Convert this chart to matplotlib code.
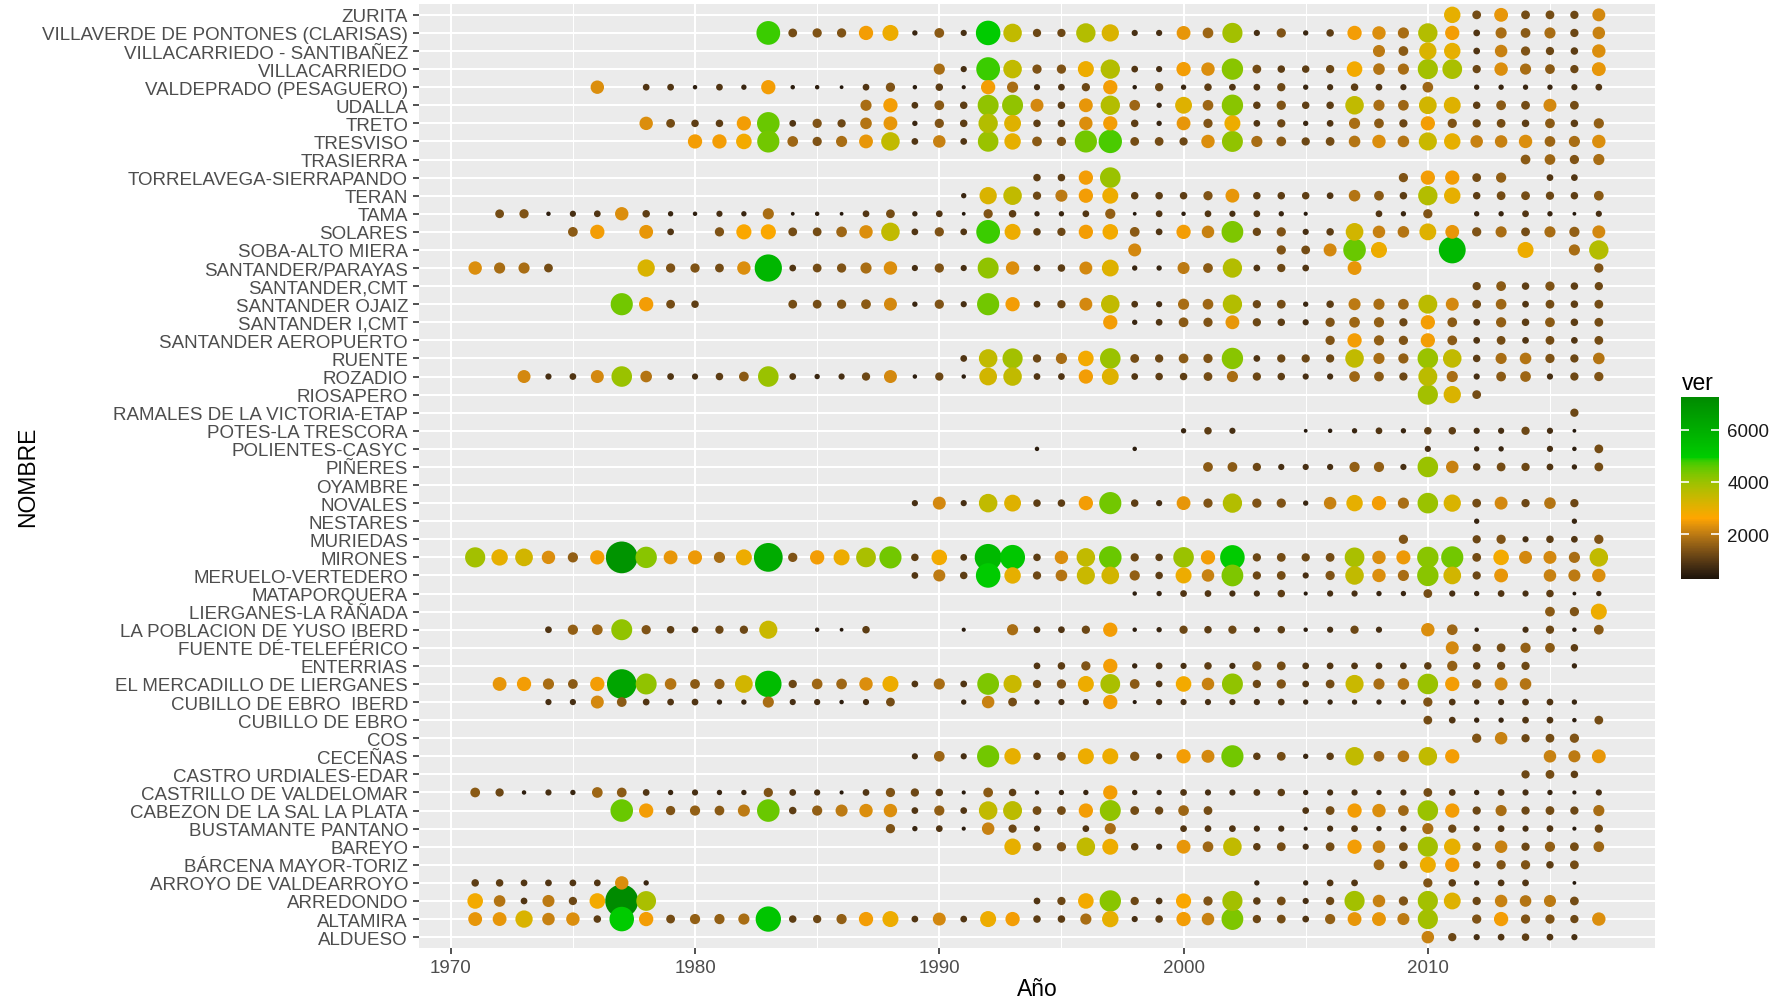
import numpy as np
import matplotlib
matplotlib.use("Agg")
import matplotlib.pyplot as plt
from matplotlib.colors import ListedColormap, Normalize
from matplotlib.cm import ScalarMappable

plt.rcParams['font.family'] = ['Liberation Sans', 'DejaVu Sans']

# estaciones, de arriba a abajo
stations = [
    "ZURITA", "VILLAVERDE DE PONTONES (CLARISAS)", "VILLACARRIEDO - SANTIBAÑEZ",
    "VILLACARRIEDO", "VALDEPRADO (PESAGUERO)", "UDALLA", "TRETO", "TRESVISO",
    "TRASIERRA", "TORRELAVEGA-SIERRAPANDO", "TERAN", "TAMA", "SOLARES",
    "SOBA-ALTO MIERA", "SANTANDER/PARAYAS", "SANTANDER,CMT", "SANTANDER OJAIZ",
    "SANTANDER I,CMT", "SANTANDER AEROPUERTO", "RUENTE", "ROZADIO", "RIOSAPERO",
    "RAMALES DE LA VICTORIA-ETAP", "POTES-LA TRESCORA", "POLIENTES-CASYC",
    "PIÑERES", "OYAMBRE", "NOVALES", "NESTARES", "MURIEDAS", "MIRONES",
    "MERUELO-VERTEDERO", "MATAPORQUERA", "LIERGANES-LA RAÑADA",
    "LA POBLACION DE YUSO IBERD", "FUENTE DÉ-TELEFÉRICO", "ENTERRIAS",
    "EL MERCADILLO DE LIERGANES", "CUBILLO DE EBRO  IBERD", "CUBILLO DE EBRO",
    "COS", "CECEÑAS", "CASTRO URDIALES-EDAR", "CASTRILLO DE VALDELOMAR",
    "CABEZON DE LA SAL LA PLATA", "BUSTAMANTE PANTANO", "BAREYO",
    "BÁRCENA MAYOR-TORIZ", "ARROYO DE VALDEARROYO", "ARREDONDO", "ALTAMIRA",
    "ALDUESO",
]

# (primer año, valores año a año; 0 = sin dato)
ver = {
    "ZURITA": (2011, [3000, 1300, 2400, 1300, 1300, 1200, 2200]),
    "VILLAVERDE DE PONTONES (CLARISAS)": (1983, [4800, 1300, 1400, 1400, 2500, 2900, 650, 1500, 800, 5000, 3500, 1200, 1200, 3700, 3200, 800, 800, 2400, 1700, 3900, 800, 1400, 650, 1050, 2500, 2300, 1800, 3700, 2500, 900, 1800, 1500, 1800, 1200, 2100]),
    "VILLACARRIEDO - SANTIBAÑEZ": (2008, [2000, 1500, 3200, 3000, 900, 2100, 1400, 1200, 1050, 2300]),
    "VILLACARRIEDO": (1990, [1800, 800, 4800, 3500, 1400, 1400, 2900, 3700, 900, 800, 2500, 2300, 4200, 1300, 1050, 1050, 1200, 2800, 1900, 1800, 3900, 3800, 1200, 2300, 1800, 1500, 1200, 2400]),
    "VALDEPRADO (PESAGUERO)": (1976, [2300, 0, 900, 900, 500, 900, 650, 2500, 500, 500, 400, 900, 1400, 500, 1050, 450, 2500, 1800, 800, 900, 1200, 2500, 500, 1200, 650, 1050, 900, 900, 1200, 650, 800, 1050, 900, 800, 1700, 0, 650, 650, 650, 650, 800, 900]),
    "UDALLA": (1987, [1800, 2500, 900, 1500, 1050, 4100, 4100, 2200, 1050, 2400, 3700, 1700, 650, 3100, 1700, 4200, 1050, 1400, 1050, 1050, 3500, 1800, 1700, 3300, 3100, 1050, 1500, 1300, 2200, 1300]),
    "TRETO": (1978, [2300, 1300, 1050, 1050, 2500, 4500, 900, 1400, 1200, 1900, 2400, 650, 1400, 1050, 3700, 3100, 1050, 1050, 2300, 2500, 1050, 650, 2400, 1400, 2900, 900, 1200, 650, 900, 1800, 1500, 1200, 2500, 1400, 1200, 1300, 1050, 1500, 1050, 1600]),
    "TRESVISO": (1980, [2500, 2500, 2800, 4400, 1700, 1400, 1800, 2400, 3500, 900, 2100, 900, 4000, 3000, 1500, 1400, 4400, 4700, 1300, 1300, 1200, 2300, 4100, 1800, 1500, 1200, 1300, 1900, 2300, 1900, 3400, 3000, 2100, 2100, 2300, 1700, 1800, 2300]),
    "TRASIERRA": (2014, [1500, 1700, 1400, 1800]),
    "TORRELAVEGA-SIERRAPANDO": (1994, [1050, 1050, 2500, 4000, 0, 0, 0, 0, 0, 0, 0, 0, 0, 0, 0, 1400, 2500, 2500, 1300, 1600, 0, 900, 900]),
    "TERAN": (1991, [650, 3200, 3500, 1200, 2000, 2500, 2900, 1050, 1050, 1050, 1400, 2400, 1050, 1050, 1050, 900, 1900, 1500, 1050, 3700, 3000, 1050, 1300, 1300, 1200, 1050, 1500]),
    "TAMA": (1972, [1300, 1400, 500, 800, 900, 2300, 1050, 650, 500, 800, 650, 1800, 400, 500, 400, 900, 1300, 650, 900, 400, 1400, 1050, 650, 650, 900, 1600, 400, 900, 500, 900, 800, 900, 650, 450, 0, 0, 900, 650, 1400, 0, 650, 650, 900, 650, 400, 800]),
    "SOLARES": (1975, [1500, 2500, 0, 2400, 900, 0, 1400, 2700, 2700, 1300, 1300, 1700, 2300, 3500, 900, 1400, 900, 4800, 2900, 1050, 1200, 2500, 2800, 1500, 900, 2500, 2100, 4300, 1200, 1400, 800, 1050, 3300, 2100, 1900, 3100, 2400, 1400, 1800, 1300, 1800, 1600, 2200]),
    "SOBA-ALTO MIERA": (1998, [2200, 0, 0, 0, 0, 0, 1400, 1300, 2200, 4500, 2900, 0, 0, 5600, 0, 0, 2900, 0, 1800, 3700]),
    "SANTANDER/PARAYAS": (1971, [2300, 1800, 1800, 1300, 0, 0, 0, 3200, 1400, 1400, 1300, 2300, 5700, 900, 1300, 1400, 1800, 2300, 800, 1400, 800, 4100, 2300, 900, 1050, 2200, 3100, 650, 650, 2000, 1500, 3700, 900, 1200, 900, 0, 2400, 0, 0, 0, 0, 0, 0, 0, 0, 0, 1400]),
    "SANTANDER,CMT": (2012, [1200, 1500, 1050, 1400, 1050, 1200]),
    "SANTANDER OJAIZ": (1977, [4400, 2500, 1300, 1050, 0, 0, 0, 1300, 1300, 1400, 1500, 2200, 650, 1400, 800, 4400, 2500, 900, 1200, 2200, 3500, 900, 800, 1800, 1700, 3700, 1200, 1300, 650, 1050, 2000, 1800, 1700, 3600, 2200, 1300, 1700, 900, 1300, 1050, 1300]),
    "SANTANDER I,CMT": (1997, [2500, 650, 900, 1500, 1400, 2400, 1200, 1050, 800, 1400, 1700, 1600, 1200, 2500, 1500, 900, 1600, 1050, 1500, 1050, 1300]),
    "SANTANDER AEROPUERTO": (2006, [1400, 2500, 1600, 1400, 2500, 1500, 900, 1300, 900, 1300, 900, 1300]),
    "RUENTE": (1991, [900, 3500, 3900, 1200, 1800, 2800, 4000, 1300, 1200, 1500, 1400, 4200, 900, 1200, 1200, 1200, 3500, 1800, 1600, 4000, 3500, 1050, 1800, 1900, 1400, 1200, 1900]),
    "ROZADIO": (1973, [2200, 800, 900, 2200, 4000, 1900, 900, 800, 1050, 1500, 4000, 900, 650, 800, 1200, 2200, 500, 1200, 500, 3300, 3500, 900, 900, 2500, 3100, 900, 1050, 1050, 1300, 1800, 1200, 1050, 800, 800, 1700, 1500, 1200, 3600, 1800, 800, 1500, 1700, 800, 1200, 1400]),
    "RIOSAPERO": (2010, [3900, 3200, 1300]),
    "RAMALES DE LA VICTORIA-ETAP": (2016, [1200]),
    "POTES-LA TRESCORA": (2000, [650, 1050, 800, 0, 0, 400, 500, 650, 900, 650, 1050, 1050, 800, 800, 1200, 800, 400]),
    "POLIENTES-CASYC": (1994, [500, 0, 0, 0, 500, 0, 0, 0, 0, 0, 0, 0, 0, 0, 0, 0, 800, 0, 650, 650, 0, 800, 500, 1300]),
    "PIÑERES": (2001, [1500, 1500, 1200, 800, 800, 800, 1600, 1600, 800, 4000, 2100, 1050, 1300, 1200, 900, 650, 1300]),
    "OYAMBRE": (2000, []),
    "NOVALES": (1989, [800, 2200, 800, 3500, 3100, 1050, 1050, 2500, 4400, 1050, 800, 2400, 1400, 3700, 1400, 1400, 650, 2100, 3000, 2500, 1800, 4000, 3200, 1300, 2200, 1200, 1900, 1200]),
    "NESTARES": (2012, [650, 0, 0, 0, 650]),
    "MURIEDAS": (2009, [1400, 0, 0, 1200, 1400, 800, 1050, 900, 1400]),
    "MIRONES": (1971, [3900, 3000, 3300, 2300, 1600, 2500, 6900, 4200, 2400, 2450, 1800, 2900, 6100, 1400, 2500, 2900, 3800, 4400, 1050, 2800, 900, 5600, 5100, 1050, 2300, 3500, 4500, 1200, 1050, 4000, 2500, 5000, 1200, 1300, 1200, 1300, 3800, 2300, 2450, 4200, 4400, 1300, 2800, 2200, 2200, 1800, 3500]),
    "MERUELO-VERTEDERO": (1989, [900, 2000, 1050, 5000, 3000, 1200, 1900, 3400, 3300, 1600, 1050, 2900, 2100, 4300, 1200, 1300, 800, 1400, 3500, 2300, 1800, 4200, 3300, 1200, 2400, 0, 2100, 2000, 2300]),
    "MATAPORQUERA": (1998, [500, 650, 900, 900, 800, 800, 1050, 450, 800, 800, 650, 650, 1300, 800, 650, 900, 800, 1050, 400, 650]),
    "LIERGANES-LA RAÑADA": (2015, [1500, 1400, 2900]),
    "LA POBLACION DE YUSO IBERD": (1974, [900, 1600, 1700, 4100, 1400, 1050, 900, 1200, 1200, 3400, 0, 500, 400, 1050, 0, 0, 0, 450, 0, 1800, 900, 900, 1200, 2500, 500, 650, 1200, 1050, 1200, 800, 1050, 500, 800, 1200, 800, 0, 2300, 1700, 500, 0, 800, 1200, 500, 1500]),
    "FUENTE DÉ-TELEFÉRICO": (2011, [2200, 1200, 1300, 1600, 1500, 1050]),
    "ENTERRIAS": (1994, [900, 1050, 1400, 2500, 650, 900, 800, 1050, 800, 1400, 1300, 900, 900, 900, 900, 900, 1050, 1600, 1050, 1200, 1200, 0, 650]),
    "EL MERCADILLO DE LIERGANES": (1972, [2400, 2500, 1800, 1500, 2500, 6300, 4100, 1900, 1500, 1600, 3300, 5500, 1200, 1700, 1700, 2300, 2900, 900, 1800, 900, 4300, 3400, 1200, 1400, 2900, 3800, 1500, 900, 2800, 2100, 4100, 1200, 1400, 900, 1300, 3400, 1800, 1900, 4000, 2500, 1400, 2200, 1900]),
    "CUBILLO DE EBRO  IBERD": (1974, [800, 800, 2200, 1500, 900, 900, 900, 650, 650, 1800, 800, 800, 500, 800, 1300, 0, 0, 650, 2100, 1300, 650, 800, 800, 2500, 450, 800, 800, 800, 800, 800, 900, 650, 650, 650, 650, 650, 1400, 900, 650, 800, 900, 900, 650]),
    "CUBILLO DE EBRO": (2010, [1300, 900, 650, 650, 900, 900, 500, 1300]),
    "COS": (2012, [1400, 2100, 1200, 1300, 1400]),
    "CECEÑAS": (1989, [800, 1700, 800, 4400, 3000, 1050, 1300, 2900, 2900, 1400, 800, 2500, 2200, 4400, 1050, 1300, 650, 1050, 3500, 1700, 1900, 3500, 2500, 0, 0, 0, 2100, 2000, 2400]),
    "CASTRO URDIALES-EDAR": (2014, [1200, 1300, 1050]),
    "CASTRILLO DE VALDELOMAR": (1971, [1500, 1200, 500, 800, 650, 1700, 1500, 900, 650, 800, 650, 650, 1400, 900, 800, 450, 900, 1400, 1200, 1050, 450, 1500, 1050, 500, 650, 650, 2500, 650, 650, 900, 800, 800, 900, 1050, 650, 800, 800, 650, 800, 1300, 900, 650, 900, 800, 650, 450, 800]),
    "CABEZON DE LA SAL LA PLATA": (1977, [4500, 2500, 1400, 1600, 1500, 2000, 4500, 1050, 1600, 2000, 2300, 2300, 900, 1600, 900, 3500, 3600, 1300, 1300, 2500, 4100, 1300, 1200, 1700, 1300, 0, 0, 0, 900, 1300, 2500, 2300, 1700, 4000, 2500, 1200, 1800, 1200, 1300, 1200, 1800]),
    "BUSTAMANTE PANTANO": (1988, [1400, 650, 900, 450, 2100, 1200, 800, 0, 900, 1800, 0, 0, 900, 900, 900, 800, 800, 450, 800, 900, 650, 800, 1800, 1200, 800, 900, 800, 900, 450, 1200]),
    "BAREYO": (1993, [3000, 1300, 1400, 3500, 2900, 1050, 800, 2400, 1700, 3500, 1050, 1300, 800, 1300, 2500, 2100, 1300, 3900, 3000, 1300, 2100, 1200, 1600, 1300, 1700]),
    "BÁRCENA MAYOR-TORIZ": (2008, [1700, 1200, 2900, 2500, 1050, 1400, 1400, 1050, 1300]),
    "ARROYO DE VALDEARROYO": (1971, [1050, 1050, 900, 900, 900, 900, 2300, 650, 0, 0, 0, 0, 0, 0, 0, 0, 0, 0, 0, 0, 0, 0, 0, 0, 0, 0, 0, 0, 0, 0, 0, 0, 650, 0, 650, 900, 900, 0, 0, 1400, 1050, 650, 900, 900, 0, 400]),
    "ARREDONDO": (1971, [2800, 1900, 900, 2000, 1200, 2800, 7240, 3800, 0, 0, 0, 0, 0, 0, 0, 0, 0, 0, 0, 0, 0, 0, 0, 900, 1200, 2800, 4200, 1200, 900, 2700, 1400, 3900, 1050, 1300, 800, 1200, 3900, 2100, 1400, 3900, 3100, 1200, 2100, 1900, 2000, 1300]),
    "ALTAMIRA": (1971, [2400, 2400, 3200, 2100, 2300, 1050, 5000, 2500, 1300, 1600, 1600, 1800, 5200, 1050, 1200, 1600, 2500, 2900, 900, 2200, 900, 2900, 2500, 1050, 1050, 1800, 3000, 800, 1050, 2500, 2100, 4300, 1200, 1300, 900, 1600, 2400, 2400, 2000, 3900, 0, 1400, 2500, 1400, 1400, 1200, 2300]),
    "ALDUESO": (2010, [2100, 1200, 800, 900, 1050, 900, 800]),
}

x_ticks = [1970, 1980, 1990, 2000, 2010]
bar_ticks = [2000, 4000, 6000]
vmin, vmax = 300, 7240


# degradado interpolado en Lab, como scale_colour_gradientn
M = np.array([[0.4124, 0.3576, 0.1805], [0.2126, 0.7152, 0.0722], [0.0193, 0.1192, 0.9505]])
WHITE = np.array([0.95047, 1.0, 1.08883])

def to_lab(rgb):
    rgb = np.asarray(rgb, float)
    lin = np.where(rgb <= 0.04045, rgb / 12.92, ((rgb + 0.055) / 1.055) ** 2.4)
    xyz = lin @ M.T / WHITE
    f = np.where(xyz > 0.008856, np.cbrt(xyz), 7.787 * xyz + 16 / 116)
    return np.stack([116 * f[..., 1] - 16, 500 * (f[..., 0] - f[..., 1]), 200 * (f[..., 1] - f[..., 2])], -1)

def from_lab(lab):
    fy = (lab[..., 0] + 16) / 116
    f = np.stack([fy + lab[..., 1] / 500, fy, fy - lab[..., 2] / 200], -1)
    xyz = np.where(f ** 3 > 0.008856, f ** 3, (f - 16 / 116) / 7.787) * WHITE
    lin = np.clip(xyz @ np.linalg.inv(M).T, 0, None)
    rgb = np.where(lin <= 0.0031308, 12.92 * lin, 1.055 * lin ** (1 / 2.4) - 0.055)
    return np.clip(rgb, 0, 1)

stops = ['#1e140a', '#ffa500', '#00cd00', '#008b00']
stop_lab = to_lab([matplotlib.colors.to_rgb(c) for c in stops])
pos = np.linspace(0, 1, len(stops))
t = np.linspace(0, 1, 256)
lab = np.stack([np.interp(t, pos, stop_lab[:, k]) for k in range(3)], -1)
cmap = ListedColormap(from_lab(lab))
norm = Normalize(vmin, vmax)

# puntos
n = len(stations)
xs, ys, vs = [], [], []
for i, name in enumerate(stations):
    y0, vals = ver[name]
    for k, v in enumerate(vals):
        if v > 0:
            xs.append(y0 + k)
            ys.append(n - 1 - i)
            vs.append(v)
xs, ys, vs = np.array(xs), np.array(ys), np.array(vs)
order = np.argsort(-vs, kind='stable')
xs, ys, vs = xs[order], ys[order], vs[order]

dpi = 100
diam_px = 3 + 30 * ((vs - vmin) / (vmax - vmin)) ** 0.85
sizes = (diam_px * 72 / dpi) ** 2

fig = plt.figure(figsize=(17.84, 10.04), dpi=dpi)
W, H = 1784, 1004
ax = fig.add_axes([419 / W, 1 - 949 / H, (1655 - 419) / W, (949 - 5) / H])
ax.set_facecolor('#EBEBEB')
for s in ax.spines.values():
    s.set_visible(False)

ax.set_xlim(1968.7, 2019.3)
ax.set_ylim(-0.6, n - 0.4)
ax.set_xticks(x_ticks)
ax.set_xticks([1975, 1985, 1995, 2005, 2015], minor=True)
ax.set_yticks(range(n))
ax.set_yticklabels(stations[::-1])
ax.grid(which='major', color='white', linewidth=1.5)
ax.grid(which='minor', axis='x', color='white', linewidth=0.75)
ax.set_axisbelow(True)
ax.tick_params(which='major', length=4.3, width=1.2, color='#333333',
               labelsize=13.5, labelcolor='#4d4d4d', pad=3.6)
ax.tick_params(which='minor', length=0)

ax.scatter(xs, ys, s=sizes, c=vs, cmap=cmap, norm=norm, linewidths=0, zorder=3)

ax.set_xlabel('Año', fontsize=16.5, labelpad=1)
ax.set_ylabel('NOMBRE', fontsize=16.5, labelpad=2)

# barra de color
cax = fig.add_axes([1681 / W, 1 - 580 / H, 38 / W, 182 / H])
cb = fig.colorbar(ScalarMappable(norm=norm, cmap=cmap), cax=cax, ticks=bar_ticks)
cb.outline.set_visible(False)
cax.yaxis.set_ticks_position('both')
cax.tick_params(direction='in', length=5.5, width=1.2, color='white',
                labelleft=False, labelright=True, labelsize=13.5,
                labelcolor='#1a1a1a', pad=6)
fig.text(1682 / W, 1 - 383 / H, 'ver', fontsize=16.5, ha='left', va='center')

fig.savefig('out.png', dpi=dpi)
